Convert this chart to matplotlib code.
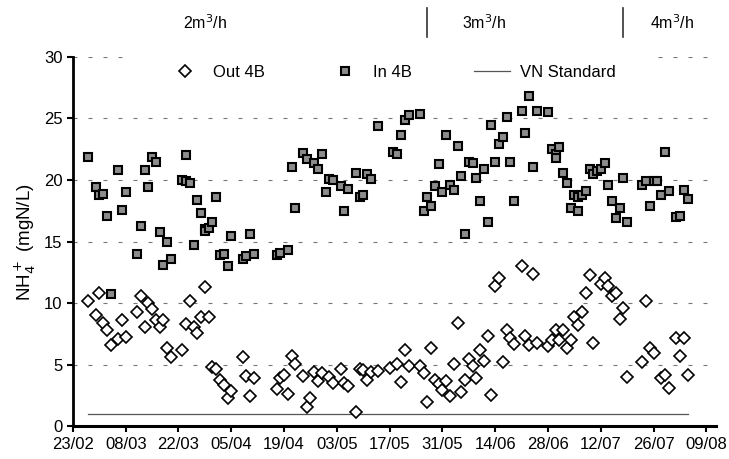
import matplotlib
matplotlib.use("Agg")
import matplotlib.pyplot as plt
import matplotlib.transforms as mtransforms
from matplotlib.patches import Rectangle
import pandas as pd

plt.rcParams['font.family'] = ['Liberation Sans', 'DejaVu Sans']

# sampling day = days after 23/02/2004
start = pd.Timestamp("2004-02-23")

out_day = [4, 6, 7, 8, 9, 10, 12, 13, 14, 17, 18, 19, 20, 21, 22, 23, 24, 25, 26, 29,
           30, 31, 32, 33, 34, 35, 36, 37, 38, 39, 40, 41, 42, 45, 46, 47, 48, 54, 55, 56,
           57, 58, 59, 61, 62, 63, 64, 65, 66, 68, 69, 71, 72, 73, 75, 76, 77, 78, 79, 81,
           84, 86, 87, 88, 89, 92, 93, 94, 95, 96, 97, 98, 99, 100, 101, 102, 103, 104, 105, 106,
           107, 108, 109, 110, 111, 112, 113, 114, 115, 116, 117, 119, 120, 121, 122, 123, 126, 127, 128, 129,
           130, 131, 132, 133, 134, 135, 136, 137, 138, 140, 141, 142, 143, 144, 145, 146, 147, 151, 152, 153,
           154, 156, 157, 158, 160, 161, 162, 163]
out_val = [10.2, 9.05, 10.8, 8.4, 7.8, 6.6, 7.1, 8.65, 7.25, 9.3, 10.6, 8.05, 10.0, 9.55, 8.65, 8.1, 8.65, 6.4, 5.6, 6.2,
           8.3, 10.15, 8.1, 7.6, 8.9, 11.3, 8.9, 4.8, 4.7, 3.8, 3.4, 2.3, 2.9, 5.6, 4.1, 2.5, 3.9, 3.0, 3.9, 4.2,
           2.6, 5.7, 5.1, 4.1, 1.55, 2.3, 4.45, 3.7, 4.3, 4.05, 3.55, 4.7, 3.5, 3.3, 1.2, 4.7, 4.6, 3.8, 4.4, 4.5,
           4.75, 5.05, 3.6, 6.2, 4.9, 4.9, 4.3, 1.95, 6.35, 3.8, 3.45, 2.95, 3.7, 2.5, 5.1, 8.4, 2.8, 3.8, 5.5, 4.9,
           3.9, 6.2, 5.3, 7.35, 2.55, 11.4, 12.05, 5.2, 7.8, 7.2, 6.7, 13.05, 7.35, 6.6, 12.4, 6.8, 6.5, 7.0, 7.8, 7.0,
           7.8, 6.4, 7.0, 8.9, 8.2, 9.3, 10.8, 12.3, 6.75, 11.6, 12.05, 11.4, 10.6, 10.8, 8.75, 9.65, 4.0, 5.2, 10.15, 6.35,
           5.95, 3.9, 4.2, 3.1, 7.2, 5.7, 7.2, 4.2]

in_day = [4, 6, 7, 8, 9, 10, 12, 13, 14, 17, 18, 19, 20, 21, 22, 23, 24, 25, 26, 29,
          30, 30, 31, 32, 33, 34, 35, 35, 36, 37, 38, 39, 40, 41, 42, 45, 46, 47, 48, 54,
          55, 57, 58, 59, 61, 62, 64, 65, 66, 67, 68, 69, 71, 72, 73, 75, 76, 77, 78, 79,
          81, 85, 86, 87, 88, 89, 92, 93, 94, 95, 96, 97, 98, 99, 100, 101, 102, 103, 104, 105,
          106, 107, 108, 109, 110, 111, 112, 113, 114, 115, 116, 117, 119, 120, 121, 122, 123, 126, 127, 128,
          128, 129, 130, 131, 132, 133, 134, 134, 135, 136, 137, 138, 139, 140, 141, 142, 143, 144, 145, 146,
          147, 151, 152, 153, 154, 155, 156, 157, 158, 160, 161, 162, 163]
in_val = [21.9, 19.4, 18.8, 18.9, 17.1, 10.75, 20.8, 17.6, 19.0, 14.0, 16.3, 20.8, 19.4, 21.9, 21.5, 15.8, 13.1, 15.0, 13.6, 20.0,
          22.0, 19.9, 19.8, 14.7, 18.4, 17.3, 16.0, 15.9, 16.1, 16.6, 18.6, 13.9, 14.0, 13.0, 15.5, 13.6, 13.8, 15.6, 14.0, 13.9,
          14.1, 14.35, 21.05, 17.7, 22.2, 21.7, 21.4, 20.9, 22.1, 19.0, 20.1, 20.0, 19.5, 17.5, 19.3, 20.6, 18.6, 18.8, 20.5, 20.1,
          24.4, 22.3, 22.1, 23.7, 24.9, 25.3, 25.4, 17.5, 18.6, 17.9, 19.5, 21.3, 19.0, 23.7, 19.6, 19.2, 22.8, 20.3, 15.6, 21.5,
          21.35, 20.2, 18.3, 20.9, 16.6, 24.5, 21.5, 22.9, 23.5, 25.1, 21.5, 18.3, 25.6, 23.8, 26.8, 21.1, 25.6, 25.5, 22.5, 22.1,
          21.8, 22.7, 20.6, 19.8, 17.7, 18.8, 18.6, 17.5, 18.8, 19.1, 20.9, 20.5, 20.7, 20.9, 21.35, 19.6, 18.3, 16.9, 17.7, 20.2,
          16.6, 19.6, 19.9, 17.9, 19.9, 19.9, 18.75, 22.3, 19.1, 17.0, 17.1, 19.2, 18.5]

vn_standard = 1.0
vn_days = [4, 163]

flow_labels = ["2m$^3$/h", "3m$^3$/h", "4m$^3$/h"]
flow_label_day = [35, 109, 159]
flow_change_day = [94, 146]

tick_days = list(range(0, 169, 14))

to_date = lambda d: start + pd.to_timedelta(d, unit="D")

fig = plt.figure(figsize=(7.29, 4.59), dpi=100)
ax = fig.add_axes([0.100, 0.071, 0.882, 0.805])

ax.plot(to_date(out_day), out_val, linestyle="none", marker="D", markersize=6.3,
        markerfacecolor="white", markeredgecolor="black", markeredgewidth=1.2, label="Out 4B", zorder=3)
ax.plot(to_date(in_day), in_val, linestyle="none", marker="s", markersize=6.3,
        markerfacecolor="#8c8c8c", markeredgecolor="black", markeredgewidth=1.5, label="In 4B", zorder=3)
ax.plot(to_date(vn_days), [vn_standard, vn_standard], color="#555555", linewidth=0.9,
        label="VN Standard", zorder=2)

ax.set_ylim(0, 30)
ax.set_yticks(range(0, 31, 5))
ax.set_xlim(to_date(0), to_date(170.5))
ticks = to_date(tick_days)
ax.set_xticks(ticks)
ax.set_xticklabels([t.strftime("%d/%m") for t in ticks])
ax.tick_params(labelsize=12, direction="out", length=4, width=1.5, colors="black")
ax.yaxis.grid(True, color="#777777", linewidth=0.8, linestyle=(0, (3.6, 9.9)))
ax.set_axisbelow(True)
for s in ["top", "right"]:
    ax.spines[s].set_visible(False)
ax.spines["left"].set_linewidth(2)
ax.spines["bottom"].set_linewidth(2.2)
ax.set_ylabel("NH$_4^+$ (mgN/L)", fontsize=13.5, labelpad=4)

# white box behind the legend hides the top gridline
ax.add_patch(Rectangle((0.084, 0.955), 0.816, 0.07, transform=ax.transAxes,
                       facecolor="white", edgecolor="none", zorder=2.4, clip_on=False))
leg = ax.legend(loc="upper center", bbox_to_anchor=(0.495, 1.028), ncol=3, fontsize=12,
                frameon=False, borderpad=1.1, borderaxespad=0, columnspacing=3.7,
                handlelength=2.2, handletextpad=0.6)
leg.set_zorder(2.5)

# flow-rate periods above the plot
trans = mtransforms.blended_transform_factory(ax.transData, fig.transFigure)
for d, lab in zip(flow_label_day, flow_labels):
    ax.text(to_date(d), 0.95, lab, transform=trans, ha="center", va="center", fontsize=11.5)
for d in flow_change_day:
    ax.plot([to_date(d), to_date(d)], [0.92, 0.982], transform=trans, color="#333333",
            linewidth=1.2, clip_on=False)

fig.savefig("out.png", dpi=100)
